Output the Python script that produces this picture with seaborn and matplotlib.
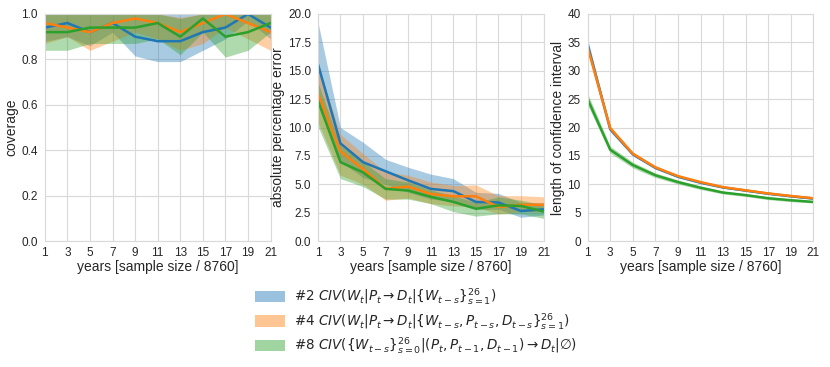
import numpy as np
import pandas as pd
import matplotlib
matplotlib.use("Agg")
import matplotlib.pyplot as plt
from matplotlib.patches import Patch
import seaborn as sns

years = [1, 3, 5, 7, 9, 11, 13, 15, 17, 19, 21]
series_names = ["#2", "#4", "#8"]
legend_labels = [
    r"#2 $CIV(W_t|P_t\rightarrow D_t|\{W_{t-s}\}_{s=1}^{26})$",
    r"#4 $CIV(W_t|P_t\rightarrow D_t|\{W_{t-s},P_{t-s},D_{t-s}\}_{s=1}^{26})$",
    r"#8 $CIV(\{W_{t-s}\}_{s=0}^{26}|(P_t,P_{t-1},D_{t-1})\rightarrow D_t|\emptyset)$",
]
colors = ["#1f77b4", "#ff7f0e", "#2ca02c"]

# coverage
cov_mean = {
    "#2": [0.94, 0.96, 0.92, 0.96, 0.90, 0.88, 0.88, 0.92, 0.94, 1.00, 0.94],
    "#4": [0.96, 0.94, 0.92, 0.96, 0.98, 0.96, 0.92, 0.96, 1.00, 0.96, 0.92],
    "#8": [0.92, 0.92, 0.94, 0.94, 0.94, 0.96, 0.90, 0.98, 0.90, 0.92, 0.96],
}
cov_low = {
    "#2": [0.88, 0.90, 0.86, 0.92, 0.815, 0.79, 0.79, 0.84, 0.89, 0.97, 0.89],
    "#4": [0.87, 0.90, 0.84, 0.88, 0.92, 0.89, 0.84, 0.87, 0.94, 0.89, 0.84],
    "#8": [0.84, 0.84, 0.87, 0.87, 0.87, 0.89, 0.82, 0.92, 0.81, 0.84, 0.92],
}
cov_high = {
    "#2": [1.0, 1.0, 1.0, 1.0, 1.0, 1.0, 1.0, 1.0, 1.0, 1.0, 1.0],
    "#4": [1.0, 1.0, 1.0, 1.0, 1.0, 1.0, 0.985, 1.0, 1.0, 1.0, 1.0],
    "#8": [1.0, 1.0, 1.0, 1.0, 1.0, 1.0, 0.98, 1.0, 1.0, 1.0, 1.0],
}

# absolute percentage error
ape_mean = {
    "#2": [15.6, 8.6, 6.95, 6.15, 5.35, 4.6, 4.4, 3.45, 3.4, 2.65, 2.8],
    "#4": [13.0, 7.9, 6.35, 4.6, 4.8, 4.15, 3.95, 3.95, 3.0, 3.2, 3.2],
    "#8": [12.4, 6.95, 6.05, 4.6, 4.45, 3.9, 3.45, 2.85, 3.15, 3.1, 2.6],
}
ape_low = {
    "#2": [12.0, 7.0, 5.6, 5.0, 4.3, 3.7, 3.5, 2.8, 2.8, 2.1, 2.3],
    "#4": [10.5, 5.8, 5.0, 3.6, 3.8, 3.3, 3.1, 3.0, 2.4, 2.6, 2.6],
    "#8": [10.1, 5.5, 4.8, 3.7, 3.7, 3.3, 2.6, 2.2, 2.4, 2.4, 2.0],
}
ape_high = {
    "#2": [19.3, 10.0, 8.7, 7.2, 6.5, 5.9, 5.5, 4.3, 4.2, 3.4, 3.4],
    "#4": [15.5, 9.4, 7.7, 6.1, 5.8, 5.2, 4.9, 4.95, 4.0, 4.0, 3.9],
    "#8": [14.0, 8.4, 7.0, 5.5, 5.2, 4.5, 4.0, 3.4, 3.9, 3.6, 3.2],
}

# length of confidence interval
len_mean = {
    "#2": [34.6, 19.7, 15.3, 12.9, 11.35, 10.3, 9.45, 8.9, 8.35, 7.9, 7.5],
    "#4": [34.1, 19.9, 15.4, 13.0, 11.45, 10.4, 9.5, 8.95, 8.4, 7.95, 7.55],
    "#8": [25.0, 16.1, 13.4, 11.6, 10.4, 9.4, 8.55, 8.1, 7.55, 7.2, 6.9],
}
len_low = {
    "#2": [33.6, 19.3, 15.0, 12.7, 11.15, 10.1, 9.3, 8.75, 8.2, 7.75, 7.35],
    "#4": [33.4, 19.5, 15.1, 12.75, 11.25, 10.2, 9.35, 8.8, 8.25, 7.8, 7.4],
    "#8": [24.0, 15.5, 12.9, 11.2, 10.05, 9.1, 8.3, 7.85, 7.3, 6.95, 6.7],
}
len_high = {
    "#2": [35.6, 20.1, 15.6, 13.1, 11.55, 10.5, 9.6, 9.05, 8.5, 8.05, 7.65],
    "#4": [34.8, 20.3, 15.7, 13.25, 11.65, 10.6, 9.65, 9.1, 8.55, 8.1, 7.7],
    "#8": [26.0, 16.7, 13.9, 12.0, 10.75, 9.7, 8.8, 8.35, 7.8, 7.45, 7.1],
}

sns.set_style("whitegrid", {"grid.color": ".85", "axes.edgecolor": ".85"})
plt.rcParams["font.family"] = ["Liberation Sans", "DejaVu Sans"]
plt.rcParams["mathtext.fontset"] = "dejavusans"

fig = plt.figure(figsize=(8.3, 3.67), dpi=100)
ax_w, ax_h = 0.272, 0.619
bottom = 0.343
lefts = [0.054, 0.383, 0.708]
axes = [fig.add_axes([l, bottom, ax_w, ax_h]) for l in lefts]

panels = [
    (cov_mean, cov_low, cov_high, "coverage", (0, 1.0), np.arange(0, 1.01, 0.2), "{:.1f}"),
    (ape_mean, ape_low, ape_high, "absolute percentage error", (0, 20), np.arange(0, 20.1, 2.5), "{:.1f}"),
    (len_mean, len_low, len_high, "length of confidence interval", (0, 40), np.arange(0, 41, 5), "{:.0f}"),
]

for ax, (mean, low, high, ylabel, ylim, yticks, fmt) in zip(axes, panels):
    rows = []
    for s in series_names:
        for x, v in zip(years, mean[s]):
            rows.append({"years": x, "value": v, "series": s})
    df = pd.DataFrame(rows)
    for s, c in zip(series_names, colors):
        ax.fill_between(years, low[s], high[s], color=c, alpha=0.38, linewidth=0)
    sns.lineplot(data=df, x="years", y="value", hue="series", hue_order=series_names,
                 palette=colors, errorbar=None, linewidth=1.8, ax=ax, legend=False)
    ax.set_xlim(1, 21)
    ax.set_ylim(*ylim)
    ax.set_xticks(years)
    ax.set_yticks(yticks)
    ax.set_yticklabels([fmt.format(t) for t in yticks])
    ax.tick_params(axis="x", labelsize=8.5, pad=0.5)
    ax.tick_params(axis="y", labelsize=8.5, pad=1.5)
    ax.set_xlabel("years [sample size / 8760]", fontsize=10, labelpad=1)
    ax.set_ylabel(ylabel, fontsize=10, labelpad=2)

handles = [Patch(facecolor=c, alpha=0.45, edgecolor="none") for c in colors]
fig.legend(handles, legend_labels, loc="upper left", bbox_to_anchor=(0.293, 0.252),
           frameon=False, handlelength=2.2, handleheight=0.9,
           labelspacing=0.28, handletextpad=0.67, prop={"family": "DejaVu Sans", "size": 9.75})

fig.savefig("out.png", dpi=100)
